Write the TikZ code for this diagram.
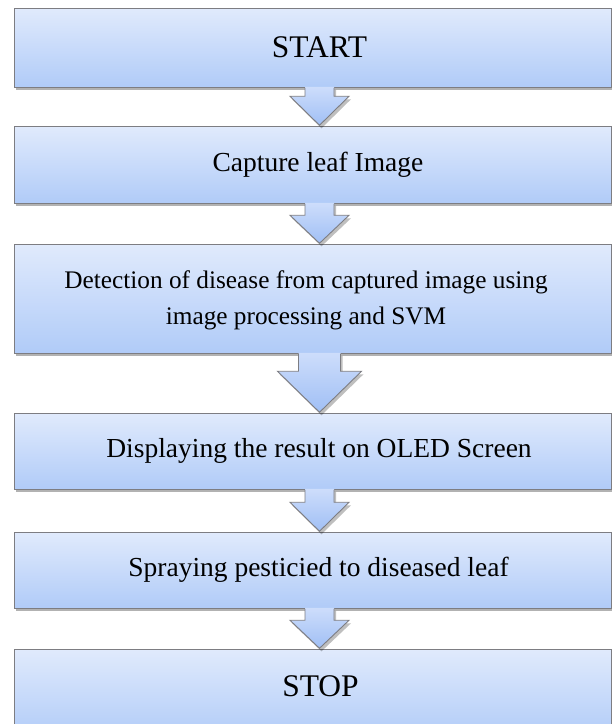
\documentclass[tikz,border=0pt]{standalone}
\usepackage{fontspec}
\setmainfont{Liberation Serif}
\usetikzlibrary{calc,shadows}
\definecolor{boxtop}{RGB}{224,234,252}
\definecolor{boxbot}{RGB}{176,203,248}
\definecolor{arrtop}{RGB}{205,221,251}
\definecolor{arrbot}{RGB}{160,191,245}
\definecolor{edgegray}{RGB}{125,125,130}
\newcommand\flowarr[5]{%
  \path[arrfill] let \p1=(#1.south), \p2=(#2.north) in
    (\x2-#3pt,\y1+1pt) -- (\x2-#3pt,\y2+#5pt) -- (\x2-#4pt,\y2+#5pt) -- (\x2,\y2)
    -- (\x2+#4pt,\y2+#5pt) -- (\x2+#3pt,\y2+#5pt) -- (\x2+#3pt,\y1+1pt) -- cycle;
  \draw[arrline] let \p1=(#1.south), \p2=(#2.north) in
    (\x2-#3pt,\y1) -- (\x2-#3pt,\y2+#5pt) -- (\x2-#4pt,\y2+#5pt) -- (\x2,\y2)
    -- (\x2+#4pt,\y2+#5pt) -- (\x2+#3pt,\y2+#5pt) -- (\x2+#3pt,\y1);
}
\begin{document}
\begin{tikzpicture}[x=1pt,y=1pt,
  boxst/.style={draw=edgegray, line width=0.9pt, top color=boxtop, bottom color=boxbot,
    inner sep=0pt, anchor=north west, minimum width=597pt,
    drop shadow={shadow xshift=2pt, shadow yshift=-3pt, opacity=0.3, fill=black}},
  arrfill/.style={top color=arrtop, bottom color=arrbot,
    drop shadow={shadow xshift=2pt, shadow yshift=-3pt, opacity=0.25, fill=black}},
  arrline/.style={draw=edgegray, line width=0.9pt, line join=miter},
  bigtxt/.style={font=\fontsize{31.5}{36}\selectfont, inner sep=0pt},
  txt/.style={font=\fontsize{27.5}{36}\selectfont, inner sep=0pt, align=center},
  smalltxt/.style={font=\fontsize{25.3}{36}\selectfont, inner sep=0pt, align=center}]
\useasboundingbox (0,0) rectangle (612,724);
\clip (0,0) rectangle (612,724);
% boxes (pixel y measured from top)
\node[boxst, minimum height=79pt] (b1) at (14,716) {};
\node[boxst, minimum height=77pt] (b2) at (14,598) {};
\node[boxst, minimum height=109pt] (b3) at (14,480) {};
\node[boxst, minimum height=76pt] (b4) at (14,311) {};
\node[boxst, minimum height=76pt] (b5) at (14,192) {};
\node[boxst, minimum height=90pt] (b6) at (14,75) {};
% arrow targets
\coordinate (ax) at (319.5,0);
\node[inner sep=0pt] (b2n) at (b2.north -| ax) {};
\node[inner sep=0pt] (b3n) at (b3.north -| ax) {};
\node[inner sep=0pt] (b4n) at (b4.north -| ax) {};
\node[inner sep=0pt] (b5n) at (b5.north -| ax) {};
\node[inner sep=0pt] (b6n) at (b6.north -| ax) {};
\flowarr{b1}{b2n}{14.5}{29.5}{29}
\flowarr{b2}{b3n}{14.5}{29.5}{28}
\flowarr{b3}{b4n}{21}{42}{41}
\flowarr{b4}{b5n}{14.5}{29.5}{29}
\flowarr{b5}{b6n}{14.5}{29.5}{28}
% texts
\node[bigtxt] (t1) at (319.5,676.5) {START};
\node[txt] (t2) at (318,559.5) {Capture leaf Image};
\node[smalltxt] (t3) at (306,424) {Detection of disease from captured image using\\image processing and SVM};
\node[txt] (t4) at (319,273) {Displaying the result on OLED Screen};
\node[txt] (t5) at (318.5,154) {Spraying pesticied to diseased leaf};
\node[bigtxt] (t6) at (320.5,37.5) {STOP};
\end{tikzpicture}
\end{document}
